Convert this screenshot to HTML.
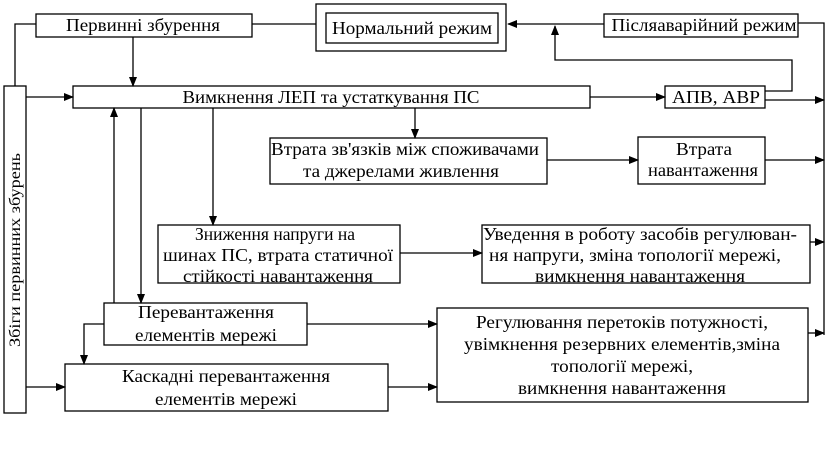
<!DOCTYPE html>
<html><head><meta charset="utf-8"><style>body{margin:0;background:#fff}svg{display:block}</style></head><body>
<svg width="836" height="450" viewBox="0 0 836 450" xmlns="http://www.w3.org/2000/svg" font-family="Liberation Serif, serif" font-size="18" fill="#000">
<defs><marker id="a" markerWidth="10" markerHeight="8" refX="9" refY="4" orient="auto" markerUnits="userSpaceOnUse"><path d="M0,0 L10,4 L0,8 Z" fill="#000"/></marker></defs>
<g fill="none" stroke="#000" stroke-width="1.3">
<rect x="36" y="14" width="216" height="23"/>
<rect x="316" y="4" width="190" height="47"/>
<rect x="326" y="13" width="172" height="30"/>
<rect x="604" y="14" width="194" height="23"/>
<rect x="4" y="86" width="22" height="327"/>
<rect x="73" y="86" width="517" height="22"/>
<rect x="665" y="86" width="100" height="22"/>
<rect x="270" y="138" width="277" height="46"/>
<rect x="638" y="137" width="127" height="47"/>
<rect x="158" y="225" width="242" height="58"/>
<rect x="482" y="225" width="328" height="58"/>
<rect x="104" y="303" width="203" height="42"/>
<rect x="437" y="308" width="371" height="94"/>
<rect x="65" y="364" width="323" height="47"/>
<path d="M15 86V24H36"/>
<path d="M252 24H316"/>
<path d="M604 24H508" marker-end="url(#a)"/>
<path d="M798 23H824V335"/>
<path d="M765 91H792V60H555V26" marker-end="url(#a)"/>
<path d="M133 37V86" marker-end="url(#a)"/>
<path d="M26 97H73" marker-end="url(#a)"/>
<path d="M590 97H665" marker-end="url(#a)"/>
<path d="M415 108V138" marker-end="url(#a)"/>
<path d="M547 160H638" marker-end="url(#a)"/>
<path d="M213 108V225" marker-end="url(#a)"/>
<path d="M114 303V108" marker-end="url(#a)"/>
<path d="M141 108V303" marker-end="url(#a)"/>
<path d="M104 324H84V364" marker-end="url(#a)"/>
<path d="M307 324H437" marker-end="url(#a)"/>
<path d="M26 387H65" marker-end="url(#a)"/>
<path d="M388 387H437" marker-end="url(#a)"/>
<path d="M400 253H482" marker-end="url(#a)"/>
<path d="M810 242H824" marker-end="url(#a)"/>
<path d="M808 333H824" marker-end="url(#a)"/>
<path d="M765 160H824" marker-end="url(#a)"/>
<path d="M765 100H824" marker-end="url(#a)"/>
</g>
<g text-anchor="middle">
<text x="143" y="31" textLength="154" lengthAdjust="spacingAndGlyphs">Первинні збурення</text>
<text x="412" y="34" textLength="160" lengthAdjust="spacingAndGlyphs">Нормальний режим</text>
<text x="704" y="31" textLength="185" lengthAdjust="spacingAndGlyphs">Післяаварійний режим</text>
<text x="331" y="103" textLength="297" lengthAdjust="spacingAndGlyphs">Вимкнення ЛЕП та устаткування ПС</text>
<text x="716" y="103" textLength="88" lengthAdjust="spacingAndGlyphs">АПВ, АВР</text>
<text x="405" y="155" textLength="268" lengthAdjust="spacingAndGlyphs">Втрата зв'язків між споживачами</text>
<text x="401" y="177" textLength="196" lengthAdjust="spacingAndGlyphs">та джерелами живлення</text>
<text x="704" y="155" textLength="56" lengthAdjust="spacingAndGlyphs">Втрата</text>
<text x="703" y="176" textLength="110" lengthAdjust="spacingAndGlyphs">навантаження</text>
<text x="275" y="240" textLength="160" lengthAdjust="spacingAndGlyphs">Зниження напруги на</text>
<text x="278" y="261" textLength="230" lengthAdjust="spacingAndGlyphs">шинах ПС, втрата статичної</text>
<text x="278" y="282" textLength="190" lengthAdjust="spacingAndGlyphs">стійкості навантаження</text>
<text x="640" y="240" textLength="314" lengthAdjust="spacingAndGlyphs">Уведення в роботу засобів регулюван-</text>
<text x="635" y="261" textLength="292" lengthAdjust="spacingAndGlyphs">ня напруги, зміна топології мережі,</text>
<text x="640" y="282" textLength="210" lengthAdjust="spacingAndGlyphs">вимкнення навантаження</text>
<text x="206" y="318" textLength="136" lengthAdjust="spacingAndGlyphs">Перевантаження</text>
<text x="206" y="341" textLength="142" lengthAdjust="spacingAndGlyphs">елементів мережі</text>
<text x="622" y="328" textLength="292" lengthAdjust="spacingAndGlyphs">Регулювання перетоків потужності,</text>
<text x="622" y="350" textLength="316" lengthAdjust="spacingAndGlyphs">увімкнення резервних елементів,зміна</text>
<text x="622" y="372" textLength="142" lengthAdjust="spacingAndGlyphs">топології мережі,</text>
<text x="622" y="394" textLength="208" lengthAdjust="spacingAndGlyphs">вимкнення навантаження</text>
<text x="226" y="382" textLength="208" lengthAdjust="spacingAndGlyphs">Каскадні перевантаження</text>
<text x="226" y="405" textLength="142" lengthAdjust="spacingAndGlyphs">елементів мережі</text>
<text transform="translate(20,250) rotate(-90)" font-size="16" textLength="194" lengthAdjust="spacingAndGlyphs">Збіги первинних збурень</text>
</g>
</svg>
</body></html>
